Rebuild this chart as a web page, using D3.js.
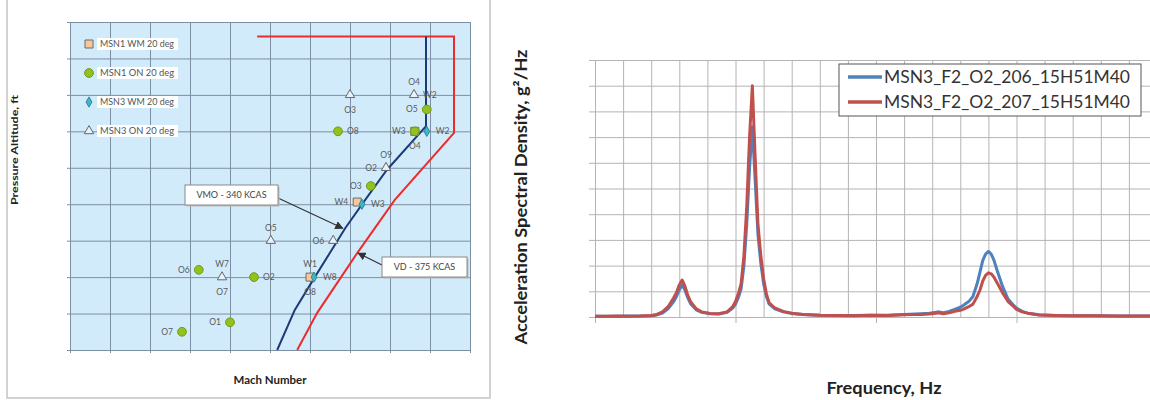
<!DOCTYPE html>
<html>
<head>
<meta charset="utf-8">
<script src="https://cdn.jsdelivr.net/npm/d3@7"></script>
<style>
  body { margin: 0; background: #fff; }
  svg { display: block; font-family: Lato, "Open Sans", sans-serif; }
</style>
</head>
<body>
<svg id="chart" width="1150" height="400"></svg>
<script>
// ---------- left chart: flight envelope (Mach vs pressure altitude) ----------
const machTicks = [0.30, 0.35, 0.40, 0.45, 0.50, 0.55, 0.60, 0.65, 0.70, 0.75, 0.80];
const altTicks = [0, 5000, 10000, 15000, 20000, 25000, 30000, 35000, 40000, 45000];

const vmoMach = [0.745, 0.745, 0.696, 0.669, 0.644, 0.606, 0.581, 0.559];
const vmoAlt = [43000, 30700, 24700, 20600, 16700, 10000, 5500, 0];
const vdMach = [0.534, 0.780, 0.780, 0.706, 0.659, 0.609, 0.584];
const vdAlt = [43000, 43000, 29800, 20600, 13300, 5100, 0];

const seriesNames = ["MSN1 WM 20 deg", "MSN1 ON 20 deg", "MSN3 WM 20 deg", "MSN3 ON 20 deg"];
const msn1WM = [[0.731, 30000], [0.659, 20300], [0.600, 10000]];
const msn1ON = [[0.635, 30000], [0.746, 33000], [0.676, 22500], [0.731, 30000],
  [0.530, 10000], [0.461, 11000], [0.500, 3800], [0.440, 2500]];
const msn3WM = [[0.746, 30000], [0.665, 20000], [0.605, 10000]];
const msn3ON = [[0.650, 35000], [0.730, 35000], [0.695, 25000], [0.551, 15000],
  [0.629, 15000], [0.490, 10000]];

// point labels: mach, altitude, text, side of the point
const pointLabels = [
  [0.635, 30000, "O8", "right"], [0.746, 33000, "O5", "left"],
  [0.676, 22500, "O3", "left"], [0.731, 30000, "W3", "left"],
  [0.731, 30000, "O4", "below"], [0.746, 30000, "W2", "right"],
  [0.659, 20300, "W4", "left"], [0.665, 20000, "W3", "right"],
  [0.600, 10000, "W1", "above"], [0.605, 10000, "W8", "right"],
  [0.600, 10000, "O8", "below"], [0.530, 10000, "O2", "right"],
  [0.461, 11000, "O6", "left"], [0.500, 3800, "O1", "left"],
  [0.440, 2500, "O7", "left"], [0.650, 35000, "O3", "below"],
  [0.730, 35000, "O4", "above"], [0.730, 35000, "W2", "right"],
  [0.695, 25000, "O9", "above"], [0.695, 25000, "O2", "left"],
  [0.551, 15000, "O5", "above"], [0.629, 15000, "O6", "left"],
  [0.490, 10000, "W7", "above"], [0.490, 10000, "O7", "below"]
];
const callouts = ["VMO - 340 KCAS", "VD - 375 KCAS"];
const calloutTips = [[0.641, 16700], [0.660, 13300]];

// ---------- right chart: PSD ----------
const freqTicks = [0, 10, 20, 30, 40, 50, 60, 70, 80, 90, 100, 110, 120, 130, 140, 150, 160, 170, 180, 190, 200];
const freqMajor = [0, 50, 100, 150, 200];
const psdTicks = [0, 1, 2, 3, 4, 5, 6, 7, 8, 9, 10];
const psdNames = ["MSN3_F2_O2_206_15H51M40", "MSN3_F2_O2_207_15H51M40"];

const freq = [
  0, 4, 8, 12, 16, 20, 22, 24, 26, 28,
  29, 30, 31, 32, 33, 34, 36, 38, 41, 44,
  47, 49, 50, 51, 52, 53, 54, 55, 56, 57,
  58, 59, 60, 61, 62, 64, 67, 70, 74, 80,
  86, 92, 98, 104, 108, 112, 116, 119, 122, 124,
  126, 128, 130, 131, 133, 134.5, 136, 137, 138, 139,
  140, 141, 142, 143, 145, 147, 149, 150, 152, 154,
  158, 164, 170, 178, 186, 194, 200];
const psd206 = [
  0.03, 0.03, 0.03, 0.04, 0.04, 0.05, 0.08, 0.15, 0.32, 0.6,
  0.8, 1.05, 1.25, 1.05, 0.75, 0.52, 0.28, 0.18, 0.13, 0.12,
  0.18, 0.35, 0.5, 0.75, 1.1, 2.0, 3.6, 5.8, 7.4, 5.3,
  3.2, 2.1, 1.3, 0.8, 0.5, 0.32, 0.2, 0.14, 0.1, 0.07,
  0.06, 0.06, 0.07, 0.07, 0.09, 0.11, 0.13, 0.15, 0.2, 0.17,
  0.22, 0.3, 0.38, 0.45, 0.6, 0.8, 1.3, 1.75, 2.2, 2.45,
  2.55, 2.45, 2.2, 1.85, 1.2, 0.7, 0.45, 0.35, 0.22, 0.15,
  0.09, 0.06, 0.05, 0.05, 0.04, 0.04, 0.04];
const psd207 = [
  0.03, 0.03, 0.04, 0.03, 0.04, 0.06, 0.1, 0.2, 0.4, 0.75,
  0.95, 1.25, 1.44, 1.2, 0.85, 0.6, 0.32, 0.2, 0.14, 0.13,
  0.2, 0.4, 0.6, 0.9, 1.3, 2.4, 4.3, 7.0, 9.0, 6.2,
  3.6, 2.4, 1.5, 0.9, 0.55, 0.35, 0.22, 0.15, 0.1, 0.07,
  0.06, 0.05, 0.07, 0.06, 0.08, 0.1, 0.1, 0.12, 0.16, 0.13,
  0.16, 0.22, 0.26, 0.3, 0.4, 0.5, 0.8, 1.05, 1.4, 1.62,
  1.72, 1.68, 1.55, 1.35, 0.95, 0.6, 0.4, 0.3, 0.2, 0.15,
  0.08, 0.06, 0.05, 0.05, 0.04, 0.04, 0.04];

const svg = d3.select("#chart");

// ================= LEFT =================
const xL = d3.scaleLinear().domain([0.3, 0.8]).range([70, 470]);
const yL = d3.scaleLinear().domain([0, 45000]).range([350, 22]);

// outer frame (top cut off)
svg.append("path")
  .attr("d", "M7,-2V398H490V-2")
  .attr("fill", "none").attr("stroke", "#c4c4c4").attr("stroke-width", 1.5);

svg.append("rect")
  .attr("x", xL(0.3)).attr("y", yL(45000))
  .attr("width", xL(0.8) - xL(0.3)).attr("height", yL(0) - yL(45000))
  .attr("fill", "#d2ebfb");

//grid + small ticks
const gridColor = "#7d8fa2";
svg.append("g")
  .attr("transform", `translate(0,${yL(0)})`)
  .call(d3.axisBottom(xL).tickValues(machTicks).tickFormat("")
    .tickSizeInner(-(yL(0) - yL(45000))).tickSizeOuter(0))
  .call(g => g.select(".domain").remove())
  .call(g => g.selectAll("line").attr("stroke", gridColor));
svg.append("g")
  .attr("transform", `translate(${xL(0.3)},0)`)
  .call(d3.axisLeft(yL).tickValues(altTicks).tickFormat("")
    .tickSizeInner(-(xL(0.8) - xL(0.3))).tickSizeOuter(0))
  .call(g => g.select(".domain").remove())
  .call(g => g.selectAll("line").attr("stroke", gridColor));
svg.append("g")
  .attr("transform", `translate(0,${yL(0)})`)
  .call(d3.axisBottom(xL).tickValues(machTicks).tickFormat("").tickSize(3))
  .call(g => g.selectAll("line,path").attr("stroke", gridColor));
svg.append("g")
  .attr("transform", `translate(${xL(0.3)},0)`)
  .call(d3.axisLeft(yL).tickValues(altTicks).tickFormat("").tickSize(3))
  .call(g => g.selectAll("line,path").attr("stroke", gridColor));

// envelope lines
const envLine = d3.line().x(d => xL(d[0])).y(d => yL(d[1]));
svg.append("path")
  .attr("d", envLine(vdMach.map((m, i) => [m, vdAlt[i]])))
  .attr("fill", "none").attr("stroke", "#ee2b2b").attr("stroke-width", 2);
svg.append("path")
  .attr("d", envLine(vmoMach.map((m, i) => [m, vmoAlt[i]])))
  .attr("fill", "none").attr("stroke", "#1d3b78").attr("stroke-width", 2);

// markers
const symColors = [
  { type: d3.symbolSquare, size: 64, fill: "#f9c79a", stroke: "#6b6b6b" },
  { type: d3.symbolCircle, size: 60, fill: "#93c21f", stroke: "#6f9a10" },
  { type: d3.symbolDiamond, size: 30, fill: "#3fb6c6", stroke: "#2a8a9a" },
  { type: d3.symbolTriangle, size: 38, fill: "#e6f2fb", stroke: "#666" }
];
const drawSeries = (data, k) => {
  const s = symColors[k];
  svg.append("g").selectAll("path")
    .data(data).join("path")
    .attr("transform", d => `translate(${xL(d[0])},${yL(d[1])})`)
    .attr("d", d3.symbol().type(s.type).size(s.size))
    .attr("fill", s.fill).attr("stroke", s.stroke).attr("stroke-width", 1);
};
drawSeries(msn3ON, 3);
drawSeries(msn1WM, 0);
drawSeries(msn1ON, 1);
drawSeries(msn3WM, 2);

// point labels
const sideOff = {
  left: [-9, 3, "end"], right: [9, 3, "start"],
  above: [0, -10, "middle"], below: [0, 18, "middle"]
};
svg.append("g").selectAll("text")
  .data(pointLabels).join("text")
  .attr("x", d => xL(d[0]) + sideOff[d[3]][0])
  .attr("y", d => yL(d[1]) + sideOff[d[3]][1])
  .attr("text-anchor", d => sideOff[d[3]][2])
  .attr("font-size", 8.5).attr("fill", "#5a5a5a")
  .text(d => d[2]);

// legend
const legL = svg.append("g");
seriesNames.forEach((name, i) => {
  const y = 44 + i * 29;
  const s = symColors[i];
  legL.append("rect").attr("x", 97).attr("y", y - 6).attr("width", 81).attr("height", 12)
    .attr("fill", "#fff");
  legL.append("path").attr("transform", `translate(89,${y})`)
    .attr("d", d3.symbol().type(s.type).size(s.size))
    .attr("fill", s.fill).attr("stroke", s.stroke);
  legL.append("text").attr("x", 100).attr("y", y + 3)
    .attr("font-size", 9).attr("fill", "#555")
    .attr("textLength", 74).attr("lengthAdjust", "spacingAndGlyphs").text(name);
});

// callouts
svg.append("defs").append("marker")
  .attr("id", "arr").attr("viewBox", "0 0 10 10")
  .attr("refX", 9).attr("refY", 5)
  .attr("markerWidth", 7).attr("markerHeight", 7).attr("orient", "auto")
  .append("path").attr("d", "M0,0L10,5L0,10z").attr("fill", "#333");

const calloutBoxes = [[185, 185, 93, 20], [382, 257, 85, 20]];
const calloutStarts = [[278, 198], [382, 265]];
callouts.forEach((t, i) => {
  const b = calloutBoxes[i];
  svg.append("line")
    .attr("x1", calloutStarts[i][0]).attr("y1", calloutStarts[i][1])
    .attr("x2", xL(calloutTips[i][0])).attr("y2", yL(calloutTips[i][1]))
    .attr("stroke", "#333").attr("stroke-width", 1.2).attr("marker-end", "url(#arr)");
  svg.append("rect").attr("x", b[0] + 1.5).attr("y", b[1] + 1.5)
    .attr("width", b[2]).attr("height", b[3]).attr("fill", "#bbb");
  svg.append("rect").attr("x", b[0]).attr("y", b[1])
    .attr("width", b[2]).attr("height", b[3])
    .attr("fill", "#fff").attr("stroke", "#8a8a8a");
  svg.append("text").attr("x", b[0] + b[2] / 2).attr("y", b[1] + b[3] / 2 + 3)
    .attr("text-anchor", "middle").attr("font-size", 9).attr("fill", "#444").text(t);
});

// axis titles
svg.append("text")
  .attr("transform", "translate(18,150) rotate(-90)")
  .attr("text-anchor", "middle").attr("font-size", 10).attr("font-weight", "bold")
  .attr("fill", "#222").attr("textLength", 110).attr("lengthAdjust", "spacingAndGlyphs")
  .text("Pressure Altitude, ft");
svg.append("text")
  .attr("x", 270).attr("y", 384)
  .attr("text-anchor", "middle").attr("font-size", 11).attr("font-weight", "bold")
  .attr("fill", "#222").attr("textLength", 73).attr("lengthAdjust", "spacingAndGlyphs")
  .text("Mach Number");

// ================= RIGHT =================
const xR = d3.scaleLinear().domain([0, 200]).range([595, 1157]);
const yR = d3.scaleLinear().domain([0, 10]).range([317, 60]);
const gridR = "#b4b4b4";

svg.append("g")
  .attr("transform", `translate(0,${yR(0)})`)
  .call(d3.axisBottom(xR).tickValues(freqTicks).tickFormat("")
    .tickSizeInner(-(yR(0) - yR(10))).tickSizeOuter(0))
  .call(g => g.select(".domain").remove())
  .call(g => g.selectAll("line").attr("stroke", gridR));
svg.append("g")
  .attr("transform", `translate(${xR(0)},0)`)
  .call(d3.axisLeft(yR).tickValues(psdTicks).tickFormat("")
    .tickSizeInner(-(xR(200) - xR(0))).tickSizeOuter(0))
  .call(g => g.select(".domain").remove())
  .call(g => g.selectAll("line").attr("stroke", gridR));
svg.append("g")
  .attr("transform", `translate(0,${yR(0)})`)
  .call(d3.axisBottom(xR).tickValues(freqMajor).tickFormat("").tickSize(6).tickSizeOuter(0))
  .call(g => g.selectAll("line,path").attr("stroke", gridR));
svg.append("g")
  .attr("transform", `translate(${xR(0)},0)`)
  .call(d3.axisLeft(yR).tickValues(psdTicks).tickFormat("").tickSize(6).tickSizeOuter(0))
  .call(g => g.selectAll("line,path").attr("stroke", gridR));

const psdLine = d3.line().x((d, i) => xR(freq[i])).y(d => yR(d));
const psdColors = ["#4f81bd", "#c0504d"];
[psd206, psd207].forEach((vals, i) => {
  svg.append("path")
    .attr("d", psdLine(vals))
    .attr("fill", "none").attr("stroke", psdColors[i])
    .attr("stroke-width", 3).attr("stroke-linejoin", "round");
});

// legend
svg.append("rect").attr("x", 839).attr("y", 64).attr("width", 302).attr("height", 52)
  .attr("fill", "#fff").attr("stroke", "#555").attr("stroke-width", 1);
psdNames.forEach((n, i) => {
  const y = 77 + i * 25;
  svg.append("line").attr("x1", 848).attr("x2", 882).attr("y1", y).attr("y2", y)
    .attr("stroke", psdColors[i]).attr("stroke-width", 3.5);
  svg.append("text").attr("x", 884).attr("y", y + 6)
    .attr("font-size", 18).attr("fill", "#333")
    .attr("textLength", 246).attr("lengthAdjust", "spacingAndGlyphs").text(n);
});

svg.append("text")
  .attr("transform", "translate(527,197) rotate(-90)")
  .attr("text-anchor", "middle").attr("font-size", 17).attr("font-weight", "bold")
  .attr("fill", "#222").attr("textLength", 295).attr("lengthAdjust", "spacingAndGlyphs")
  .text("Acceleration Spectral Density, g²/Hz");
svg.append("text")
  .attr("x", 884).attr("y", 394)
  .attr("text-anchor", "middle").attr("font-size", 17).attr("font-weight", "bold")
  .attr("fill", "#222").attr("textLength", 115).attr("lengthAdjust", "spacingAndGlyphs")
  .text("Frequency, Hz");
</script>
</body>
</html>
